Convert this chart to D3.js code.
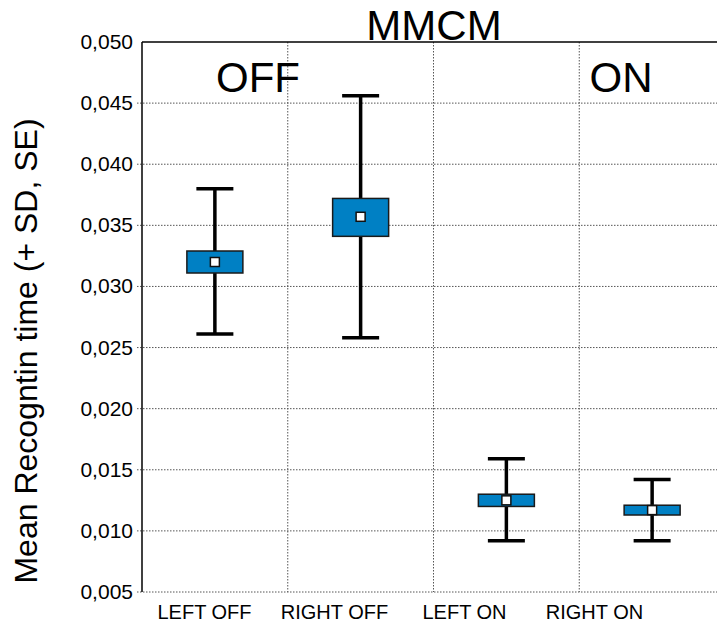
<!DOCTYPE html>
<meta charset="utf-8">
<script src="https://d3js.org/d3.v7.min.js"></script>
<style>
  body { margin: 0; background: #fff; }
  text { font-family: "Liberation Sans", Arial, sans-serif; fill: #000; }
</style>
<div id="chart"></div>
<script>
// data
var groups  = ["LEFT OFF", "RIGHT OFF", "LEFT ON", "RIGHT ON"];
var means   = [0.0320, 0.0357, 0.0125, 0.0117];
var seLow   = [0.0311, 0.0341, 0.0120, 0.0113];
var seHigh  = [0.0329, 0.0372, 0.0130, 0.0121];
var sdLow   = [0.0261, 0.0258, 0.0092, 0.0092];
var sdHigh  = [0.0380, 0.0456, 0.0159, 0.0142];
var yTicks  = [0.005, 0.010, 0.015, 0.020, 0.025, 0.030, 0.035, 0.040, 0.045, 0.050];

var W = 717, H = 622;
var m = {left: 142, top: 42, right: 725, bottom: 592};

var svg = d3.select("#chart").append("svg")
    .attr("width", W).attr("height", H);

var x = d3.scaleBand().domain(groups).range([m.left, m.right]).paddingInner(0).paddingOuter(0);
var y = d3.scaleLinear().domain([0.005, 0.050]).range([m.bottom, m.top]);
// category labels sit on their own spacing in the original
var xLab = d3.scalePoint().domain(groups).range([204.5, 594.5]);

var fmt = function(d) { return d3.format(".3f")(d).replace(".", ","); };

// horizontal grid (dotted)
svg.append("g").selectAll("line")
    .data(yTicks.filter(function(d) { return d < 0.050; }))
    .enter().append("line")
    .attr("x1", m.left - 5).attr("x2", W)
    .attr("y1", function(d) { return y(d); })
    .attr("y2", function(d) { return y(d); })
    .attr("stroke", "#555").attr("stroke-width", 1)
    .attr("stroke-dasharray", "1.5,1.5");

// vertical grid between groups
svg.append("g").selectAll("line")
    .data(groups.slice(1))
    .enter().append("line")
    .attr("x1", function(d) { return x(d); })
    .attr("x2", function(d) { return x(d); })
    .attr("y1", m.top).attr("y2", m.bottom)
    .attr("stroke", "#555").attr("stroke-width", 1)
    .attr("stroke-dasharray", "1.5,1.5");

// frame: left axis and top line
svg.append("line").attr("x1", m.left).attr("x2", m.left).attr("y1", m.top).attr("y2", m.bottom)
    .attr("stroke", "#000").attr("stroke-width", 1.5);
svg.append("line").attr("x1", m.left).attr("x2", W).attr("y1", m.top).attr("y2", m.top)
    .attr("stroke", "#000").attr("stroke-width", 1.5);

// y tick labels
svg.append("g").selectAll("text")
    .data(yTicks).enter().append("text")
    .attr("x", m.left - 9)
    .attr("y", function(d) { return y(d) + 7; })
    .attr("text-anchor", "end")
    .style("font-size", "21px")
    .text(fmt);

// x labels
svg.append("g").selectAll("text")
    .data(groups).enter().append("text")
    .attr("x", function(d) { return xLab(d); })
    .attr("y", 619)
    .attr("text-anchor", "middle")
    .style("font-size", "20px")
    .text(function(d) { return d; });

// y axis title
svg.append("text")
    .attr("transform", "rotate(-90)")
    .attr("x", -351).attr("y", 37)
    .attr("text-anchor", "middle")
    .style("font-size", "32px")
    .text("Mean Recogntin time (+ SD, SE)");

// titles
svg.append("text").attr("x", 434).attr("y", 40).attr("text-anchor", "middle")
    .style("font-size", "42px").text("MMCM");
svg.append("text").attr("x", 258).attr("y", 92).attr("text-anchor", "middle")
    .style("font-size", "42px").text("OFF");
svg.append("text").attr("x", 621).attr("y", 92).attr("text-anchor", "middle")
    .style("font-size", "42px").text("ON");

// boxes
var boxW = 56, capW = 37, mk = 9;
var g = svg.append("g").selectAll("g")
    .data(groups).enter().append("g");

var cx = function(d) { return x(d) + x.bandwidth() / 2; };

g.append("line")
    .attr("x1", cx).attr("x2", cx)
    .attr("y1", function(d, i) { return y(sdHigh[i]); })
    .attr("y2", function(d, i) { return y(sdLow[i]); })
    .attr("stroke", "#000").attr("stroke-width", 3.5);

[sdHigh, sdLow].forEach(function(arr) {
  g.append("line")
      .attr("x1", function(d) { return cx(d) - capW / 2; })
      .attr("x2", function(d) { return cx(d) + capW / 2; })
      .attr("y1", function(d, i) { return y(arr[i]); })
      .attr("y2", function(d, i) { return y(arr[i]); })
      .attr("stroke", "#000").attr("stroke-width", 3.5);
});

g.append("rect")
    .attr("x", function(d) { return cx(d) - boxW / 2; })
    .attr("width", boxW)
    .attr("y", function(d, i) { return y(seHigh[i]); })
    .attr("height", function(d, i) { return y(seLow[i]) - y(seHigh[i]); })
    .attr("fill", "#0080c4").attr("stroke", "#1a1a1a").attr("stroke-width", 1.5);

g.append("rect")
    .attr("x", function(d) { return cx(d) - mk / 2; })
    .attr("y", function(d, i) { return y(means[i]) - mk / 2; })
    .attr("width", mk).attr("height", mk)
    .attr("fill", "#fff").attr("stroke", "#111").attr("stroke-width", 1.5);
</script>
